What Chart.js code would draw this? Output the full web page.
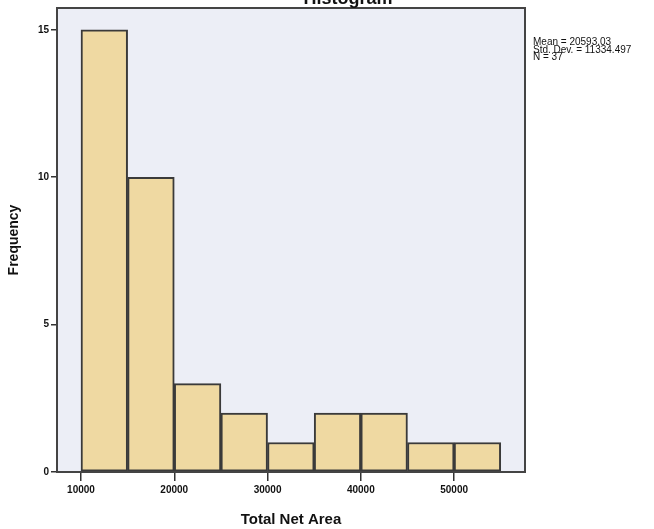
<!DOCTYPE html>
<html>
<head>
<meta charset="utf-8">
<title>Histogram</title>
<script src="https://cdn.jsdelivr.net/npm/chart.js@4.4.1/dist/chart.umd.min.js"></script>
<style>
  html, body { margin: 0; padding: 0; background: #fff; }
  #wrap { width: 654px; height: 529px; }
</style>
</head>
<body>
<div id="wrap"><canvas id="histChart" width="654" height="529"></canvas></div>
<script>
// bins of 5000 from 10000 to 55000
const binCenters = [12500, 17500, 22500, 27500, 32500, 37500, 42500, 47500, 52500];
const frequencies = [15, 10, 3, 2, 1, 2, 2, 1, 1];
const xTicks = [10000, 20000, 30000, 40000, 50000];
const yTicks = [0, 5, 10, 15];
const statLines = ["Mean = 20593.03", "Std. Dev. = 11334.497", "N = 37"];

const TICK_FONT = "'Liberation Sans Narrow', 'Arial Narrow', 'Liberation Sans', sans-serif";
const BOLD_FONT = "'Liberation Sans', Arial, sans-serif";

const frame = {
    id: "frame",
    beforeDraw(chart) {
        const { ctx, chartArea: a } = chart;
        ctx.save();
        ctx.fillStyle = "#ffffff";
        ctx.fillRect(0, 0, chart.width, chart.height);
        ctx.fillStyle = "#eceef6";
        ctx.fillRect(a.left, a.top, a.right - a.left, a.bottom - a.top);
        ctx.restore();
    },
    afterDraw(chart) {
        const { ctx, chartArea: a } = chart;
        ctx.save();
        ctx.strokeStyle = "#444444";
        ctx.lineWidth = 2;
        ctx.strokeRect(a.left, a.top, a.right - a.left, a.bottom - a.top);

        // title, mostly cut off at the top edge
        ctx.fillStyle = "#111111";
        ctx.font = "bold 18px " + BOLD_FONT;
        ctx.textAlign = "center";
        ctx.textBaseline = "alphabetic";
        ctx.fillText("Histogram", 348, 4);

        // summary statistics
        ctx.font = "10px " + BOLD_FONT;
        ctx.textAlign = "left";
        statLines.forEach((line, i) => {
            ctx.fillText(line, a.right + 8, 45 + i * 7.6);
        });
        ctx.restore();
    }
};

const ctx = document.getElementById("histChart").getContext("2d");
new Chart(ctx, {
    type: "bar",
    data: {
        datasets: [{
            label: "Frequency",
            data: binCenters.map((x, i) => ({ x: x, y: frequencies[i] })),
            backgroundColor: "#efd9a2",
            borderColor: "#3a3a3a",
            borderWidth: 2,
            borderSkipped: false,
            barPercentage: 1,
            categoryPercentage: 1,
            grouped: false
        }]
    },
    options: {
        responsive: false,
        animation: false,
        layout: { padding: { top: 8, right: 129, left: 0, bottom: 0 } },
        plugins: {
            legend: { display: false },
            tooltip: { enabled: false }
        },
        scales: {
            x: {
                type: "linear",
                offset: false,
                min: 7428,
                max: 57600,
                afterBuildTicks: s => { s.ticks = xTicks.map(v => ({ value: v })); },
                afterFit: s => { s.height = 57; },
                grid: { display: true, drawOnChartArea: false, drawTicks: true, tickLength: 9, color: "#333333", lineWidth: 1.5, offset: false },
                border: { display: false },
                ticks: {
                    padding: 3,
                    maxRotation: 0,
                    autoSkip: false,
                    color: "#111111",
                    font: { family: TICK_FONT, size: 10, weight: "bold" },
                    callback: v => String(v)
                },
                title: {
                    display: true,
                    text: "Total Net Area",
                    color: "#111111",
                    font: { family: BOLD_FONT, size: 15, weight: "bold" },
                    padding: 0
                }
            },
            y: {
                min: 0,
                max: 15.74,
                afterBuildTicks: s => { s.ticks = yTicks.map(v => ({ value: v })); },
                afterFit: s => { s.width = 57; },
                grid: { display: true, drawOnChartArea: false, drawTicks: true, tickLength: 6, color: "#333333", lineWidth: 1.5 },
                border: { display: false },
                ticks: {
                    padding: 2,
                    color: "#111111",
                    font: { family: TICK_FONT, size: 10, weight: "bold" },
                    callback: v => String(v)
                },
                title: {
                    display: true,
                    text: "Frequency",
                    color: "#111111",
                    font: { family: BOLD_FONT, size: 14, weight: "bold" },
                    padding: 6
                }
            }
        }
    },
    plugins: [frame]
});
</script>
</body>
</html>
